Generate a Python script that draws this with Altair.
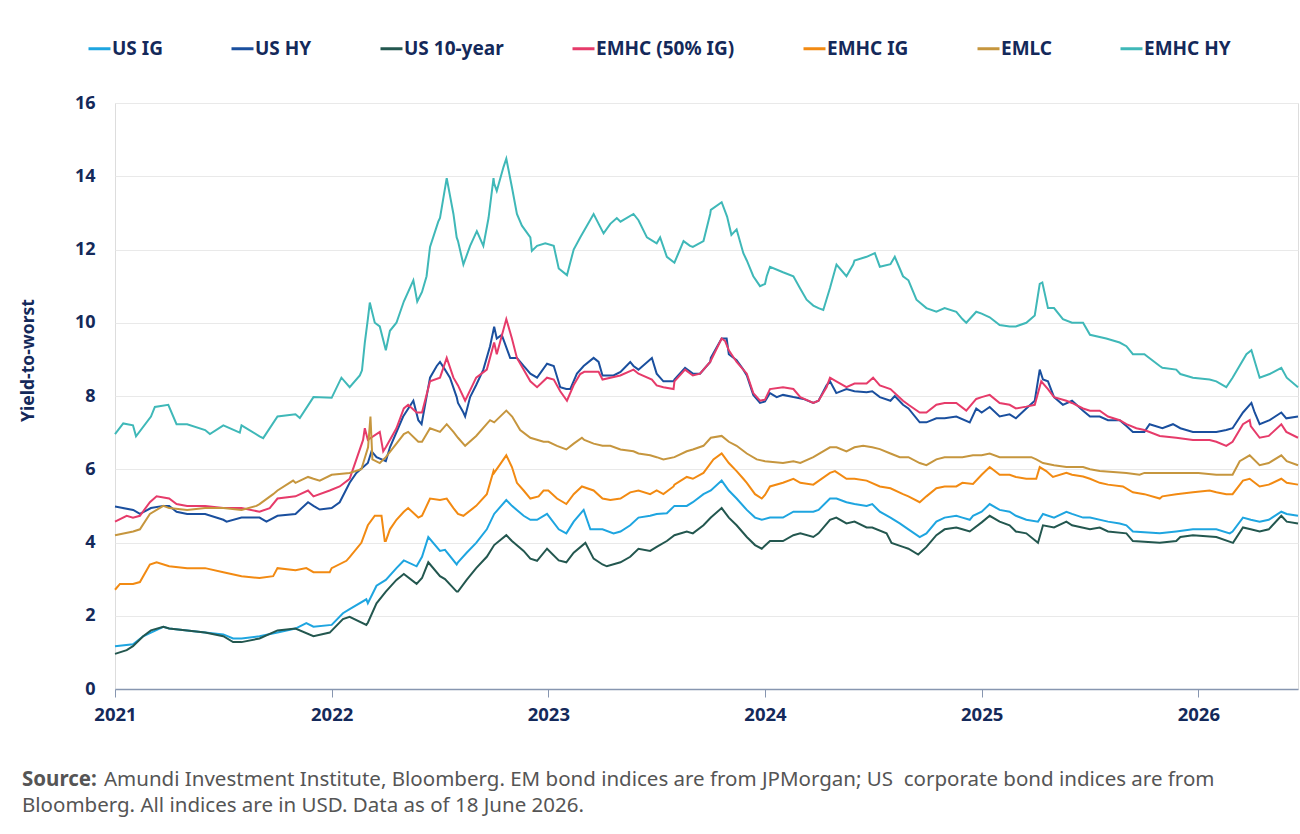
import altair as alt
import pandas as pd

# Yield-to-worst (%) by index, keyed by decimal year
us_ig = [
    (2021.0, 1.17), (2021.083, 1.22), (2021.13, 1.44), (2021.166, 1.54), (2021.223, 1.7),
    (2021.25, 1.65), (2021.333, 1.6), (2021.416, 1.54), (2021.5, 1.49), (2021.545, 1.38),
    (2021.584, 1.38), (2021.667, 1.44), (2021.75, 1.54), (2021.833, 1.65), (2021.883, 1.8),
    (2021.916, 1.7), (2022.0, 1.75), (2022.052, 2.07), (2022.083, 2.18), (2022.16, 2.45),
    (2022.167, 2.34), (2022.207, 2.82), (2022.25, 2.98), (2022.299, 3.3), (2022.333, 3.51),
    (2022.392, 3.35), (2022.417, 3.61), (2022.446, 4.15), (2022.5, 3.77), (2022.523, 3.8),
    (2022.577, 3.4), (2022.583, 3.46), (2022.623, 3.72), (2022.667, 3.99), (2022.716, 4.36),
    (2022.75, 4.78), (2022.806, 5.16), (2022.832, 5.0), (2022.886, 4.73), (2022.917, 4.62),
    (2022.948, 4.62), (2022.994, 4.78), (2023.048, 4.36), (2023.083, 4.25), (2023.117, 4.57),
    (2023.163, 4.89), (2023.194, 4.36), (2023.25, 4.36), (2023.301, 4.25), (2023.333, 4.3),
    (2023.378, 4.47), (2023.416, 4.68), (2023.47, 4.73), (2023.5, 4.78), (2023.547, 4.8),
    (2023.582, 5.0), (2023.639, 5.0), (2023.667, 5.1), (2023.716, 5.32), (2023.75, 5.42),
    (2023.8, 5.69), (2023.833, 5.42), (2023.869, 5.2), (2023.916, 4.89), (2023.954, 4.68),
    (2023.985, 4.62), (2024.023, 4.68), (2024.083, 4.68), (2024.131, 4.84), (2024.163, 4.84),
    (2024.223, 4.84), (2024.247, 4.89), (2024.3, 5.2), (2024.33, 5.2), (2024.376, 5.1),
    (2024.413, 5.05), (2024.469, 5.0), (2024.495, 5.05), (2024.53, 4.84), (2024.579, 4.68),
    (2024.622, 4.52), (2024.662, 4.36), (2024.714, 4.15), (2024.745, 4.25), (2024.791, 4.57),
    (2024.829, 4.68), (2024.883, 4.73), (2024.911, 4.68), (2024.945, 4.62), (2024.96, 4.73),
    (2025.0, 4.84), (2025.037, 5.05), (2025.083, 4.89), (2025.129, 4.84), (2025.158, 4.73),
    (2025.206, 4.62), (2025.26, 4.57), (2025.283, 4.78), (2025.334, 4.68), (2025.391, 4.84),
    (2025.417, 4.78), (2025.468, 4.68), (2025.5, 4.68), (2025.583, 4.57), (2025.637, 4.52),
    (2025.668, 4.47), (2025.698, 4.3), (2025.822, 4.25), (2025.898, 4.3), (2025.975, 4.36),
    (2026.083, 4.36), (2026.145, 4.25), (2026.158, 4.3), (2026.206, 4.68), (2026.242, 4.62),
    (2026.283, 4.57), (2026.325, 4.62), (2026.383, 4.84), (2026.408, 4.78), (2026.46, 4.73),
]

us_hy = [
    (2021.0, 4.98), (2021.084, 4.89), (2021.115, 4.78), (2021.166, 4.94), (2021.223, 5.0),
    (2021.25, 5.0), (2021.284, 4.84), (2021.333, 4.78), (2021.416, 4.78), (2021.5, 4.62),
    (2021.515, 4.57), (2021.584, 4.68), (2021.667, 4.68), (2021.699, 4.57), (2021.75, 4.73),
    (2021.833, 4.78), (2021.891, 5.1), (2021.916, 5.0), (2021.945, 4.9), (2022.0, 4.94),
    (2022.037, 5.1), (2022.083, 5.63), (2022.114, 5.9), (2022.167, 6.17), (2022.184, 6.49),
    (2022.207, 6.33), (2022.25, 6.22), (2022.269, 6.6), (2022.33, 7.44), (2022.377, 7.87),
    (2022.4, 7.34), (2022.415, 7.23), (2022.454, 8.5), (2022.485, 8.82), (2022.5, 8.93),
    (2022.523, 8.72), (2022.546, 8.5), (2022.577, 7.97), (2022.583, 7.81), (2022.608, 7.55),
    (2022.616, 7.44), (2022.639, 7.97), (2022.667, 8.3), (2022.7, 8.72), (2022.731, 9.36),
    (2022.75, 9.89), (2022.762, 9.57), (2022.785, 9.67), (2022.824, 9.04), (2022.855, 9.04),
    (2022.886, 8.82), (2022.917, 8.61), (2022.948, 8.5), (2022.994, 8.88), (2023.025, 8.82),
    (2023.055, 8.24), (2023.083, 8.19), (2023.101, 8.19), (2023.132, 8.61), (2023.163, 8.82),
    (2023.209, 9.04), (2023.232, 8.93), (2023.25, 8.56), (2023.301, 8.56), (2023.333, 8.66),
    (2023.378, 8.93), (2023.393, 8.82), (2023.416, 8.72), (2023.478, 9.04), (2023.5, 8.61),
    (2023.531, 8.4), (2023.578, 8.4), (2023.582, 8.45), (2023.631, 8.77), (2023.667, 8.61),
    (2023.7, 8.61), (2023.747, 8.93), (2023.75, 9.04), (2023.8, 9.57), (2023.823, 9.57),
    (2023.833, 9.14), (2023.869, 8.98), (2023.9, 8.72), (2023.916, 8.56), (2023.946, 8.03),
    (2023.977, 7.81), (2024.0, 7.85), (2024.023, 8.08), (2024.054, 7.97), (2024.083, 8.03),
    (2024.131, 7.97), (2024.177, 7.92), (2024.223, 7.81), (2024.247, 7.87), (2024.284, 8.29),
    (2024.3, 8.4), (2024.329, 8.08), (2024.376, 8.19), (2024.413, 8.13), (2024.469, 8.1),
    (2024.495, 8.13), (2024.53, 7.97), (2024.579, 7.87), (2024.599, 8.0), (2024.637, 7.76),
    (2024.662, 7.66), (2024.714, 7.28), (2024.745, 7.28), (2024.791, 7.39), (2024.829, 7.39),
    (2024.883, 7.44), (2024.945, 7.28), (2024.975, 7.66), (2025.0, 7.55), (2025.037, 7.7),
    (2025.083, 7.44), (2025.129, 7.5), (2025.158, 7.39), (2025.206, 7.66), (2025.245, 7.87),
    (2025.268, 8.72), (2025.283, 8.45), (2025.306, 8.4), (2025.334, 7.97), (2025.375, 7.76),
    (2025.417, 7.87), (2025.468, 7.6), (2025.5, 7.44), (2025.545, 7.44), (2025.583, 7.34),
    (2025.637, 7.34), (2025.668, 7.18), (2025.698, 7.02), (2025.751, 7.02), (2025.775, 7.23),
    (2025.834, 7.12), (2025.883, 7.23), (2025.917, 7.12), (2025.975, 7.02), (2026.0, 7.02),
    (2026.052, 7.02), (2026.083, 7.02), (2026.129, 7.07), (2026.158, 7.12), (2026.206, 7.55),
    (2026.245, 7.81), (2026.26, 7.55), (2026.283, 7.23), (2026.329, 7.34), (2026.383, 7.55),
    (2026.406, 7.39), (2026.46, 7.44),
]

us_10y = [
    (2021.0, 0.96), (2021.054, 1.06), (2021.083, 1.17), (2021.13, 1.44), (2021.166, 1.6),
    (2021.223, 1.7), (2021.25, 1.65), (2021.333, 1.6), (2021.416, 1.54), (2021.5, 1.44),
    (2021.545, 1.28), (2021.584, 1.28), (2021.667, 1.38), (2021.75, 1.6), (2021.833, 1.65),
    (2021.916, 1.44), (2021.991, 1.54), (2022.052, 1.91), (2022.083, 1.97), (2022.16, 1.75),
    (2022.167, 1.81), (2022.207, 2.34), (2022.25, 2.66), (2022.299, 2.98), (2022.333, 3.14),
    (2022.392, 2.87), (2022.417, 3.03), (2022.446, 3.46), (2022.5, 3.08), (2022.523, 3.0),
    (2022.577, 2.66), (2022.583, 2.66), (2022.623, 2.98), (2022.667, 3.3), (2022.716, 3.61),
    (2022.75, 3.93), (2022.806, 4.2), (2022.832, 4.04), (2022.886, 3.77), (2022.917, 3.56),
    (2022.948, 3.5), (2022.994, 3.83), (2023.048, 3.51), (2023.083, 3.46), (2023.117, 3.72),
    (2023.171, 3.99), (2023.209, 3.56), (2023.25, 3.4), (2023.27, 3.35), (2023.333, 3.46),
    (2023.378, 3.61), (2023.416, 3.83), (2023.47, 3.77), (2023.5, 3.88), (2023.547, 4.04),
    (2023.582, 4.2), (2023.639, 4.3), (2023.667, 4.25), (2023.716, 4.47), (2023.75, 4.68),
    (2023.8, 4.94), (2023.833, 4.68), (2023.869, 4.47), (2023.916, 4.15), (2023.954, 3.93),
    (2023.985, 3.83), (2024.023, 4.04), (2024.083, 4.04), (2024.131, 4.2), (2024.163, 4.25),
    (2024.223, 4.15), (2024.247, 4.25), (2024.3, 4.62), (2024.329, 4.68), (2024.376, 4.52),
    (2024.413, 4.57), (2024.469, 4.41), (2024.495, 4.41), (2024.561, 4.25), (2024.584, 3.99),
    (2024.637, 3.88), (2024.662, 3.83), (2024.707, 3.67), (2024.745, 3.88), (2024.791, 4.2),
    (2024.829, 4.36), (2024.883, 4.41), (2024.911, 4.36), (2024.945, 4.3), (2025.0, 4.55),
    (2025.037, 4.73), (2025.083, 4.57), (2025.129, 4.47), (2025.158, 4.3), (2025.206, 4.25),
    (2025.26, 3.99), (2025.283, 4.47), (2025.334, 4.41), (2025.391, 4.57), (2025.417, 4.47),
    (2025.5, 4.36), (2025.545, 4.41), (2025.583, 4.3), (2025.668, 4.25), (2025.698, 4.04),
    (2025.822, 3.99), (2025.898, 4.04), (2025.917, 4.15), (2025.975, 4.2), (2026.083, 4.15),
    (2026.16, 3.99), (2026.206, 4.41), (2026.242, 4.36), (2026.283, 4.3), (2026.325, 4.36),
    (2026.383, 4.73), (2026.408, 4.57), (2026.46, 4.52),
]

emhc_50 = [
    (2021.0, 4.57), (2021.054, 4.73), (2021.083, 4.68), (2021.115, 4.73), (2021.161, 5.1),
    (2021.192, 5.26), (2021.25, 5.2), (2021.284, 5.05), (2021.333, 5.0), (2021.416, 5.0),
    (2021.5, 4.94), (2021.584, 4.94), (2021.667, 4.84), (2021.714, 4.94), (2021.75, 5.2),
    (2021.833, 5.26), (2021.891, 5.42), (2021.916, 5.26), (2021.991, 5.42), (2022.037, 5.53),
    (2022.083, 5.74), (2022.145, 6.8), (2022.153, 7.12), (2022.167, 6.8), (2022.222, 7.02),
    (2022.238, 6.49), (2022.25, 6.6), (2022.299, 7.12), (2022.333, 7.66), (2022.353, 7.76),
    (2022.392, 7.55), (2022.417, 7.55), (2022.454, 8.4), (2022.5, 8.5), (2022.531, 9.04),
    (2022.562, 8.5), (2022.583, 8.29), (2022.616, 7.87), (2022.667, 8.5), (2022.716, 8.72),
    (2022.75, 9.46), (2022.762, 9.14), (2022.806, 10.1), (2022.832, 9.57), (2022.855, 9.04),
    (2022.917, 8.4), (2022.948, 8.24), (2022.994, 8.5), (2023.025, 8.45), (2023.055, 8.13),
    (2023.086, 7.87), (2023.117, 8.3), (2023.147, 8.6), (2023.166, 8.66), (2023.232, 8.66),
    (2023.25, 8.45), (2023.332, 8.56), (2023.393, 8.72), (2023.416, 8.61), (2023.478, 8.45),
    (2023.5, 8.29), (2023.531, 8.24), (2023.578, 8.19), (2023.582, 8.4), (2023.631, 8.72),
    (2023.667, 8.56), (2023.7, 8.61), (2023.747, 8.93), (2023.8, 9.57), (2023.816, 9.5),
    (2023.833, 9.25), (2023.869, 8.93), (2023.916, 8.61), (2023.946, 8.08), (2023.977, 7.87),
    (2024.0, 7.9), (2024.023, 8.19), (2024.083, 8.24), (2024.131, 8.19), (2024.163, 7.97),
    (2024.223, 7.81), (2024.247, 7.87), (2024.284, 8.24), (2024.3, 8.5), (2024.329, 8.4),
    (2024.376, 8.24), (2024.413, 8.34), (2024.469, 8.34), (2024.499, 8.5), (2024.53, 8.29),
    (2024.579, 8.19), (2024.637, 7.87), (2024.662, 7.76), (2024.714, 7.55), (2024.745, 7.55),
    (2024.791, 7.76), (2024.829, 7.81), (2024.883, 7.81), (2024.929, 7.6), (2024.975, 7.92),
    (2025.0, 7.97), (2025.037, 8.03), (2025.083, 7.81), (2025.129, 7.76), (2025.158, 7.66),
    (2025.206, 7.71), (2025.245, 7.76), (2025.275, 8.4), (2025.306, 8.19), (2025.334, 7.97),
    (2025.391, 7.87), (2025.417, 7.81), (2025.468, 7.66), (2025.5, 7.6), (2025.545, 7.6),
    (2025.583, 7.44), (2025.637, 7.34), (2025.668, 7.23), (2025.714, 7.12), (2025.751, 7.07),
    (2025.822, 6.91), (2025.898, 6.86), (2025.975, 6.8), (2026.052, 6.8), (2026.083, 6.75),
    (2026.129, 6.64), (2026.158, 6.75), (2026.206, 7.23), (2026.237, 7.34), (2026.242, 7.18),
    (2026.283, 6.86), (2026.325, 6.91), (2026.383, 7.23), (2026.406, 7.02), (2026.46, 6.86),
]

emhc_ig = [
    (2021.0, 2.71), (2021.023, 2.87), (2021.083, 2.87), (2021.115, 2.92), (2021.161, 3.4),
    (2021.192, 3.46), (2021.25, 3.35), (2021.333, 3.3), (2021.416, 3.3), (2021.5, 3.19),
    (2021.584, 3.08), (2021.667, 3.03), (2021.73, 3.08), (2021.75, 3.3), (2021.833, 3.24),
    (2021.883, 3.3), (2021.916, 3.19), (2021.991, 3.19), (2022.0, 3.3), (2022.068, 3.5),
    (2022.083, 3.6), (2022.137, 3.99), (2022.16, 4.36), (2022.167, 4.47), (2022.199, 4.73),
    (2022.23, 4.73), (2022.245, 4.04), (2022.25, 4.04), (2022.269, 4.36), (2022.299, 4.62),
    (2022.333, 4.84), (2022.353, 4.94), (2022.4, 4.68), (2022.417, 4.73), (2022.454, 5.2),
    (2022.5, 5.16), (2022.531, 5.2), (2022.562, 4.94), (2022.583, 4.78), (2022.608, 4.73),
    (2022.667, 5.0), (2022.716, 5.32), (2022.747, 5.95), (2022.75, 5.9), (2022.806, 6.38),
    (2022.832, 6.06), (2022.855, 5.63), (2022.886, 5.42), (2022.917, 5.2), (2022.955, 5.26),
    (2022.978, 5.42), (2023.0, 5.42), (2023.04, 5.2), (2023.083, 5.05), (2023.117, 5.32),
    (2023.155, 5.53), (2023.209, 5.42), (2023.25, 5.2), (2023.286, 5.16), (2023.333, 5.2),
    (2023.378, 5.37), (2023.416, 5.42), (2023.47, 5.32), (2023.5, 5.42), (2023.531, 5.32),
    (2023.578, 5.53), (2023.582, 5.58), (2023.639, 5.79), (2023.667, 5.74), (2023.716, 5.9),
    (2023.762, 6.27), (2023.8, 6.43), (2023.833, 6.17), (2023.869, 5.95), (2023.9, 5.74),
    (2023.916, 5.63), (2023.954, 5.32), (2023.985, 5.2), (2024.0, 5.3), (2024.023, 5.53),
    (2024.083, 5.63), (2024.131, 5.74), (2024.163, 5.63), (2024.223, 5.58), (2024.3, 5.9),
    (2024.323, 5.95), (2024.376, 5.74), (2024.413, 5.74), (2024.469, 5.69), (2024.53, 5.53),
    (2024.579, 5.48), (2024.637, 5.32), (2024.662, 5.26), (2024.714, 5.1), (2024.745, 5.26),
    (2024.791, 5.48), (2024.829, 5.53), (2024.883, 5.53), (2024.911, 5.63), (2024.96, 5.6),
    (2025.0, 5.85), (2025.037, 6.06), (2025.083, 5.85), (2025.129, 5.85), (2025.158, 5.79),
    (2025.206, 5.74), (2025.252, 5.74), (2025.268, 6.06), (2025.298, 5.95), (2025.329, 5.79),
    (2025.391, 5.9), (2025.417, 5.85), (2025.468, 5.8), (2025.5, 5.74), (2025.545, 5.63),
    (2025.583, 5.58), (2025.652, 5.53), (2025.698, 5.37), (2025.751, 5.32), (2025.822, 5.2),
    (2025.834, 5.26), (2025.898, 5.32), (2025.975, 5.37), (2026.052, 5.42), (2026.083, 5.37),
    (2026.129, 5.32), (2026.158, 5.32), (2026.206, 5.69), (2026.237, 5.74), (2026.283, 5.53),
    (2026.325, 5.58), (2026.383, 5.74), (2026.408, 5.63), (2026.46, 5.58),
]

emlc = [
    (2021.0, 4.2), (2021.084, 4.3), (2021.115, 4.36), (2021.161, 4.78), (2021.223, 5.0),
    (2021.25, 4.94), (2021.333, 4.89), (2021.416, 4.94), (2021.5, 4.94), (2021.584, 4.89),
    (2021.653, 5.0), (2021.667, 5.05), (2021.73, 5.32), (2021.75, 5.42), (2021.822, 5.69),
    (2021.833, 5.63), (2021.891, 5.79), (2021.916, 5.74), (2021.945, 5.69), (2022.0, 5.85),
    (2022.083, 5.9), (2022.137, 6.0), (2022.168, 6.6), (2022.179, 7.44), (2022.188, 6.27),
    (2022.222, 6.17), (2022.25, 6.33), (2022.299, 6.7), (2022.333, 6.96), (2022.353, 7.02),
    (2022.4, 6.75), (2022.417, 6.75), (2022.454, 7.12), (2022.5, 7.02), (2022.531, 7.23),
    (2022.562, 7.02), (2022.583, 6.86), (2022.616, 6.64), (2022.667, 6.91), (2022.731, 7.34),
    (2022.75, 7.28), (2022.806, 7.6), (2022.833, 7.44), (2022.87, 7.07), (2022.917, 6.86),
    (2022.978, 6.75), (2023.0, 6.75), (2023.04, 6.64), (2023.083, 6.54), (2023.117, 6.7),
    (2023.155, 6.86), (2023.166, 6.8), (2023.209, 6.7), (2023.25, 6.64), (2023.286, 6.64),
    (2023.333, 6.54), (2023.393, 6.49), (2023.416, 6.43), (2023.47, 6.38), (2023.5, 6.33),
    (2023.531, 6.27), (2023.582, 6.33), (2023.639, 6.49), (2023.667, 6.54), (2023.716, 6.64),
    (2023.75, 6.86), (2023.8, 6.91), (2023.833, 6.75), (2023.869, 6.64), (2023.916, 6.43),
    (2023.962, 6.27), (2024.0, 6.22), (2024.083, 6.17), (2024.131, 6.22), (2024.163, 6.17),
    (2024.223, 6.33), (2024.3, 6.6), (2024.33, 6.6), (2024.376, 6.49), (2024.413, 6.6),
    (2024.453, 6.64), (2024.495, 6.6), (2024.53, 6.55), (2024.579, 6.43), (2024.622, 6.33),
    (2024.662, 6.33), (2024.714, 6.17), (2024.745, 6.11), (2024.791, 6.27), (2024.829, 6.33),
    (2024.911, 6.33), (2024.96, 6.38), (2025.0, 6.38), (2025.037, 6.43), (2025.083, 6.33),
    (2025.158, 6.33), (2025.229, 6.33), (2025.252, 6.27), (2025.283, 6.17), (2025.334, 6.11),
    (2025.391, 6.06), (2025.468, 6.06), (2025.5, 6.0), (2025.545, 5.95), (2025.668, 5.9),
    (2025.729, 5.85), (2025.751, 5.9), (2025.917, 5.9), (2026.0, 5.9), (2026.083, 5.85),
    (2026.158, 5.85), (2026.191, 6.22), (2026.237, 6.38), (2026.283, 6.11), (2026.325, 6.17),
    (2026.383, 6.38), (2026.408, 6.22), (2026.46, 6.11),
]

emhc_hy = [
    (2021.0, 6.96), (2021.038, 7.25), (2021.083, 7.2), (2021.097, 6.9), (2021.166, 7.44),
    (2021.184, 7.7), (2021.246, 7.76), (2021.284, 7.23), (2021.333, 7.23), (2021.416, 7.07),
    (2021.438, 6.96), (2021.5, 7.2), (2021.576, 7.0), (2021.584, 7.2), (2021.667, 6.9),
    (2021.684, 6.85), (2021.75, 7.44), (2021.833, 7.5), (2021.853, 7.4), (2021.916, 7.97),
    (2022.0, 7.95), (2022.045, 8.5), (2022.083, 8.24), (2022.13, 8.56), (2022.14, 8.7),
    (2022.153, 9.46), (2022.167, 10.1), (2022.176, 10.55), (2022.199, 10.0), (2022.222, 9.9),
    (2022.25, 9.25), (2022.269, 9.78), (2022.299, 10.0), (2022.333, 10.58), (2022.377, 11.16),
    (2022.395, 10.58), (2022.417, 10.84), (2022.438, 11.27), (2022.454, 12.07), (2022.492, 12.76),
    (2022.5, 12.86), (2022.531, 13.95), (2022.562, 12.97), (2022.577, 12.33), (2022.583, 12.23),
    (2022.608, 11.59), (2022.639, 12.1), (2022.67, 12.5), (2022.7, 12.1), (2022.724, 12.86),
    (2022.747, 13.95), (2022.75, 13.8), (2022.762, 13.6), (2022.793, 14.25), (2022.806, 14.48),
    (2022.832, 13.7), (2022.855, 12.97), (2022.878, 12.65), (2022.917, 12.33), (2022.924, 11.96),
    (2022.948, 12.1), (2022.986, 12.17), (2023.025, 12.1), (2023.048, 11.48), (2023.086, 11.3),
    (2023.117, 12.0), (2023.147, 12.33), (2023.209, 12.97), (2023.255, 12.44), (2023.286, 12.7),
    (2023.316, 12.86), (2023.333, 12.76), (2023.393, 12.97), (2023.416, 12.8), (2023.455, 12.33),
    (2023.5, 12.17), (2023.516, 12.33), (2023.547, 11.8), (2023.582, 11.64), (2023.624, 12.23),
    (2023.654, 12.1), (2023.667, 12.07), (2023.716, 12.23), (2023.747, 12.97), (2023.75, 13.08),
    (2023.8, 13.29), (2023.825, 12.9), (2023.845, 12.4), (2023.869, 12.55), (2023.9, 11.9),
    (2023.916, 11.7), (2023.946, 11.27), (2023.977, 11.0), (2024.0, 11.06), (2024.008, 11.27),
    (2024.023, 11.53), (2024.083, 11.38), (2024.131, 11.27), (2024.161, 10.95), (2024.192, 10.63),
    (2024.223, 10.47), (2024.247, 10.4), (2024.269, 10.35), (2024.3, 10.95), (2024.33, 11.59),
    (2024.376, 11.27), (2024.407, 11.59), (2024.413, 11.7), (2024.469, 11.8), (2024.507, 11.9),
    (2024.53, 11.53), (2024.579, 11.6), (2024.599, 11.8), (2024.637, 11.27), (2024.662, 11.16),
    (2024.699, 10.63), (2024.745, 10.4), (2024.791, 10.3), (2024.829, 10.4), (2024.883, 10.3),
    (2024.911, 10.1), (2024.929, 10.0), (2024.975, 10.3), (2025.0, 10.25), (2025.037, 10.15),
    (2025.083, 9.94), (2025.129, 9.9), (2025.158, 9.9), (2025.206, 10.0), (2025.245, 10.2),
    (2025.268, 11.06), (2025.28, 11.1), (2025.306, 10.4), (2025.334, 10.4), (2025.375, 10.1),
    (2025.417, 10.0), (2025.468, 10.0), (2025.5, 9.67), (2025.575, 9.57), (2025.637, 9.46),
    (2025.668, 9.36), (2025.698, 9.14), (2025.751, 9.14), (2025.822, 8.82), (2025.834, 8.77),
    (2025.898, 8.72), (2025.917, 8.6), (2025.975, 8.5), (2026.052, 8.45), (2026.083, 8.4),
    (2026.129, 8.24), (2026.158, 8.5), (2026.222, 9.14), (2026.245, 9.25), (2026.283, 8.5),
    (2026.329, 8.6), (2026.383, 8.77), (2026.408, 8.5), (2026.46, 8.24),
]

series_names = ["US IG", "US HY", "US 10-year", "EMHC (50% IG)", "EMHC IG", "EMLC", "EMHC HY"]
series_colors = ["#1ea5e0", "#1a4f9e", "#23574f", "#e63b6a", "#f28a12", "#c6963e", "#3fb8b8"]
series_data = [us_ig, us_hy, us_10y, emhc_50, emhc_ig, emlc, emhc_hy]

year_ticks = [2021, 2022, 2023, 2024, 2025, 2026]
yield_ticks = [0, 2, 4, 6, 8, 10, 12, 14, 16]

footnote_lead = "Source:"
footnote_line1 = ("Amundi Investment Institute, Bloomberg. EM bond indices are from JPMorgan; "
                  "US\u00a0 corporate bond indices are from")
footnote_line2 = "Bloomberg. All indices are in USD. Data as of 18 June 2026."

rows = []
for name, pts in zip(series_names, series_data):
    for yr, val in pts:
        rows.append({"series": name, "year": yr, "ytw": val})
df = pd.DataFrame(rows)

NAVY = "#14295a"
GREY_TEXT = "#555555"
FONT = "Noto Sans"
W, H = 1183, 586

lines = alt.Chart(df).mark_line(strokeWidth=2, interpolate="linear").encode(
    x=alt.X(
        "year:Q",
        scale=alt.Scale(domain=[2021, 2026.46], nice=False, zero=False),
        axis=alt.Axis(
            values=year_ticks, format="d", title=None, grid=False,
            domain=True, domainColor="#8796b0", domainWidth=1.5,
            ticks=True, tickColor="#8796b0", tickSize=8, tickWidth=1,
            labelFont=FONT, labelFontSize=18.5, labelFontWeight="bold",
            labelColor=NAVY, labelPadding=8, labelFlush=False,
        ),
    ),
    y=alt.Y(
        "ytw:Q",
        scale=alt.Scale(domain=[0, 16], nice=False),
        axis=alt.Axis(
            values=yield_ticks, title="Yield-to-worst", grid=True,
            gridColor="#e9e9e9", gridWidth=1, domain=False, ticks=False,
            labelFont=FONT, labelFontSize=18, labelFontWeight="bold",
            labelColor=NAVY, labelPadding=20,
            titleFont=FONT, titleFontSize=17.5, titleFontWeight="bold",
            titleColor=NAVY, titleAngle=-90, titleX=-87, titleY=257,
            titleAlign="center", titleBaseline="middle",
        ),
    ),
    color=alt.Color(
        "series:N",
        scale=alt.Scale(domain=series_names, range=series_colors),
        legend=alt.Legend(
            title=None, orient="none", direction="horizontal",
            legendX=-28, legendY=-67,
            symbolType="stroke", symbolSize=484, symbolStrokeWidth=3,
            labelFont=FONT, labelFontSize=19, labelFontWeight="bold",
            labelColor=NAVY, labelOffset=0, columnPadding=62,
        ),
    ),
    detail="series:N",
)

foot_text = dict(align="left", baseline="middle", font=FONT, fontSize=20.5, color=GREY_TEXT)

foot_lead = alt.Chart(pd.DataFrame({"t": [footnote_lead]})).mark_text(
    fontWeight="bold", **foot_text
).encode(text="t:N", x=alt.value(-93), y=alt.value(677))

foot_l1 = alt.Chart(pd.DataFrame({"t": [footnote_line1]})).mark_text(**foot_text).encode(
    text="t:N", x=alt.value(-11), y=alt.value(677)
)

foot_l2 = alt.Chart(pd.DataFrame({"t": [footnote_line2]})).mark_text(**foot_text).encode(
    text="t:N", x=alt.value(-93), y=alt.value(703)
)

chart = alt.layer(lines, foot_lead, foot_l1, foot_l2).properties(
    width=W, height=H,
    autosize=alt.AutoSizeParams(type="none"),
    padding={"left": 115, "top": 103, "right": 2, "bottom": 145},
).configure_view(stroke=None).configure(background="white")

chart.save("out.html", embed_options={"renderer": "svg", "actions": False})
